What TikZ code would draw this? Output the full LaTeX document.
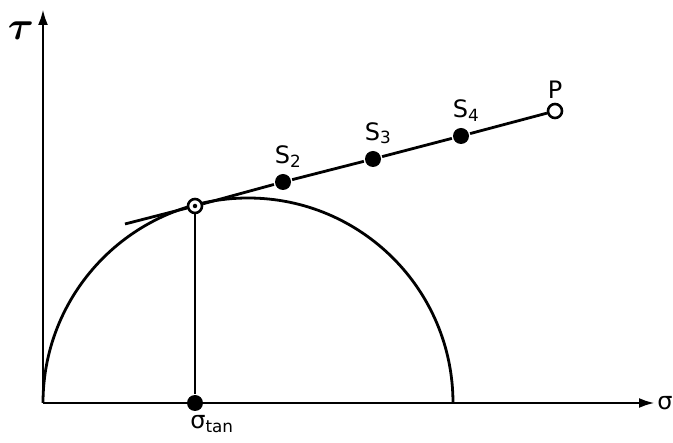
\documentclass[tikz,border=0pt]{standalone}
\usepackage{bm}
\usepackage{fontspec}
\setmainfont{DejaVu Sans}
\usetikzlibrary{arrows.meta}
\tikzset{
  dot/.style={circle, fill=black, inner sep=0pt, minimum size=16pt},
  opendot/.style={circle, draw=black, fill=white, line width=2.6pt, inner sep=0pt, minimum size=14pt},
  lbl/.style={font=\fontsize{24}{28}\selectfont, inner sep=1pt},
  taulbl/.style={font=\fontsize{24}{28}\selectfont, scale=1.6, inner sep=1pt},
  axisarrow/.style={-{Latex[length=16pt,width=10pt]}},
}
\begin{document}
\begin{tikzpicture}[x=1pt,y=-1pt,line width=2.8pt]
  \useasboundingbox (0,0) rectangle (673,443);
  % Draw axes
  \coordinate (O) at (43,403);
  \coordinate (tautop) at (43,9);
  \coordinate (sigend) at (655,403);
  \draw[axisarrow] (O) -- (tautop);
  \draw[axisarrow] (O) -- (sigend);
  \node[taulbl] (taux) at (21,31) {$\bm{\tau}$};
  \node[lbl] (sig) at (665,403) {σ};

  % Mohr semicircle
  \coordinate (C) at (248,403);
  \draw (453,403) arc[start angle=0, end angle=-180, radius=205];

  % Points on the line
  \node[opendot] (tp) at (195,206) {};
  \node[circle, fill=black, inner sep=0pt, minimum size=4.5pt] (tpc) at (tp) {};
  \foreach \n/\x/\y in {S2/283/182, S3/373/159, S4/461/136} {
    \node[dot] (\n) at (\x,\y) {};
  }
  \node[opendot] (P) at (555,111) {};
  \node[dot] (st) at (195,403) {};

  % Tangent line
  \coordinate (lstart) at (125,224);
  \draw (lstart) -- (tp) -- (S2) -- (S3) -- (S4) -- (P);
  \draw (tp) -- (st);

  % Labels
  \foreach \n/\k in {S2/2, S3/3, S4/4} {
    \node[lbl, above=3pt] (\n lbl) at ([xshift=5pt]\n.north) {S\textsubscript{\k}};
  }
  \node[lbl, above=2pt] (Plbl) at (P.north) {P};
  \node[lbl, below=1pt] (stlbl) at ([xshift=17pt]st.south) {σ\textsubscript{tan}};
\end{tikzpicture}
\end{document}
